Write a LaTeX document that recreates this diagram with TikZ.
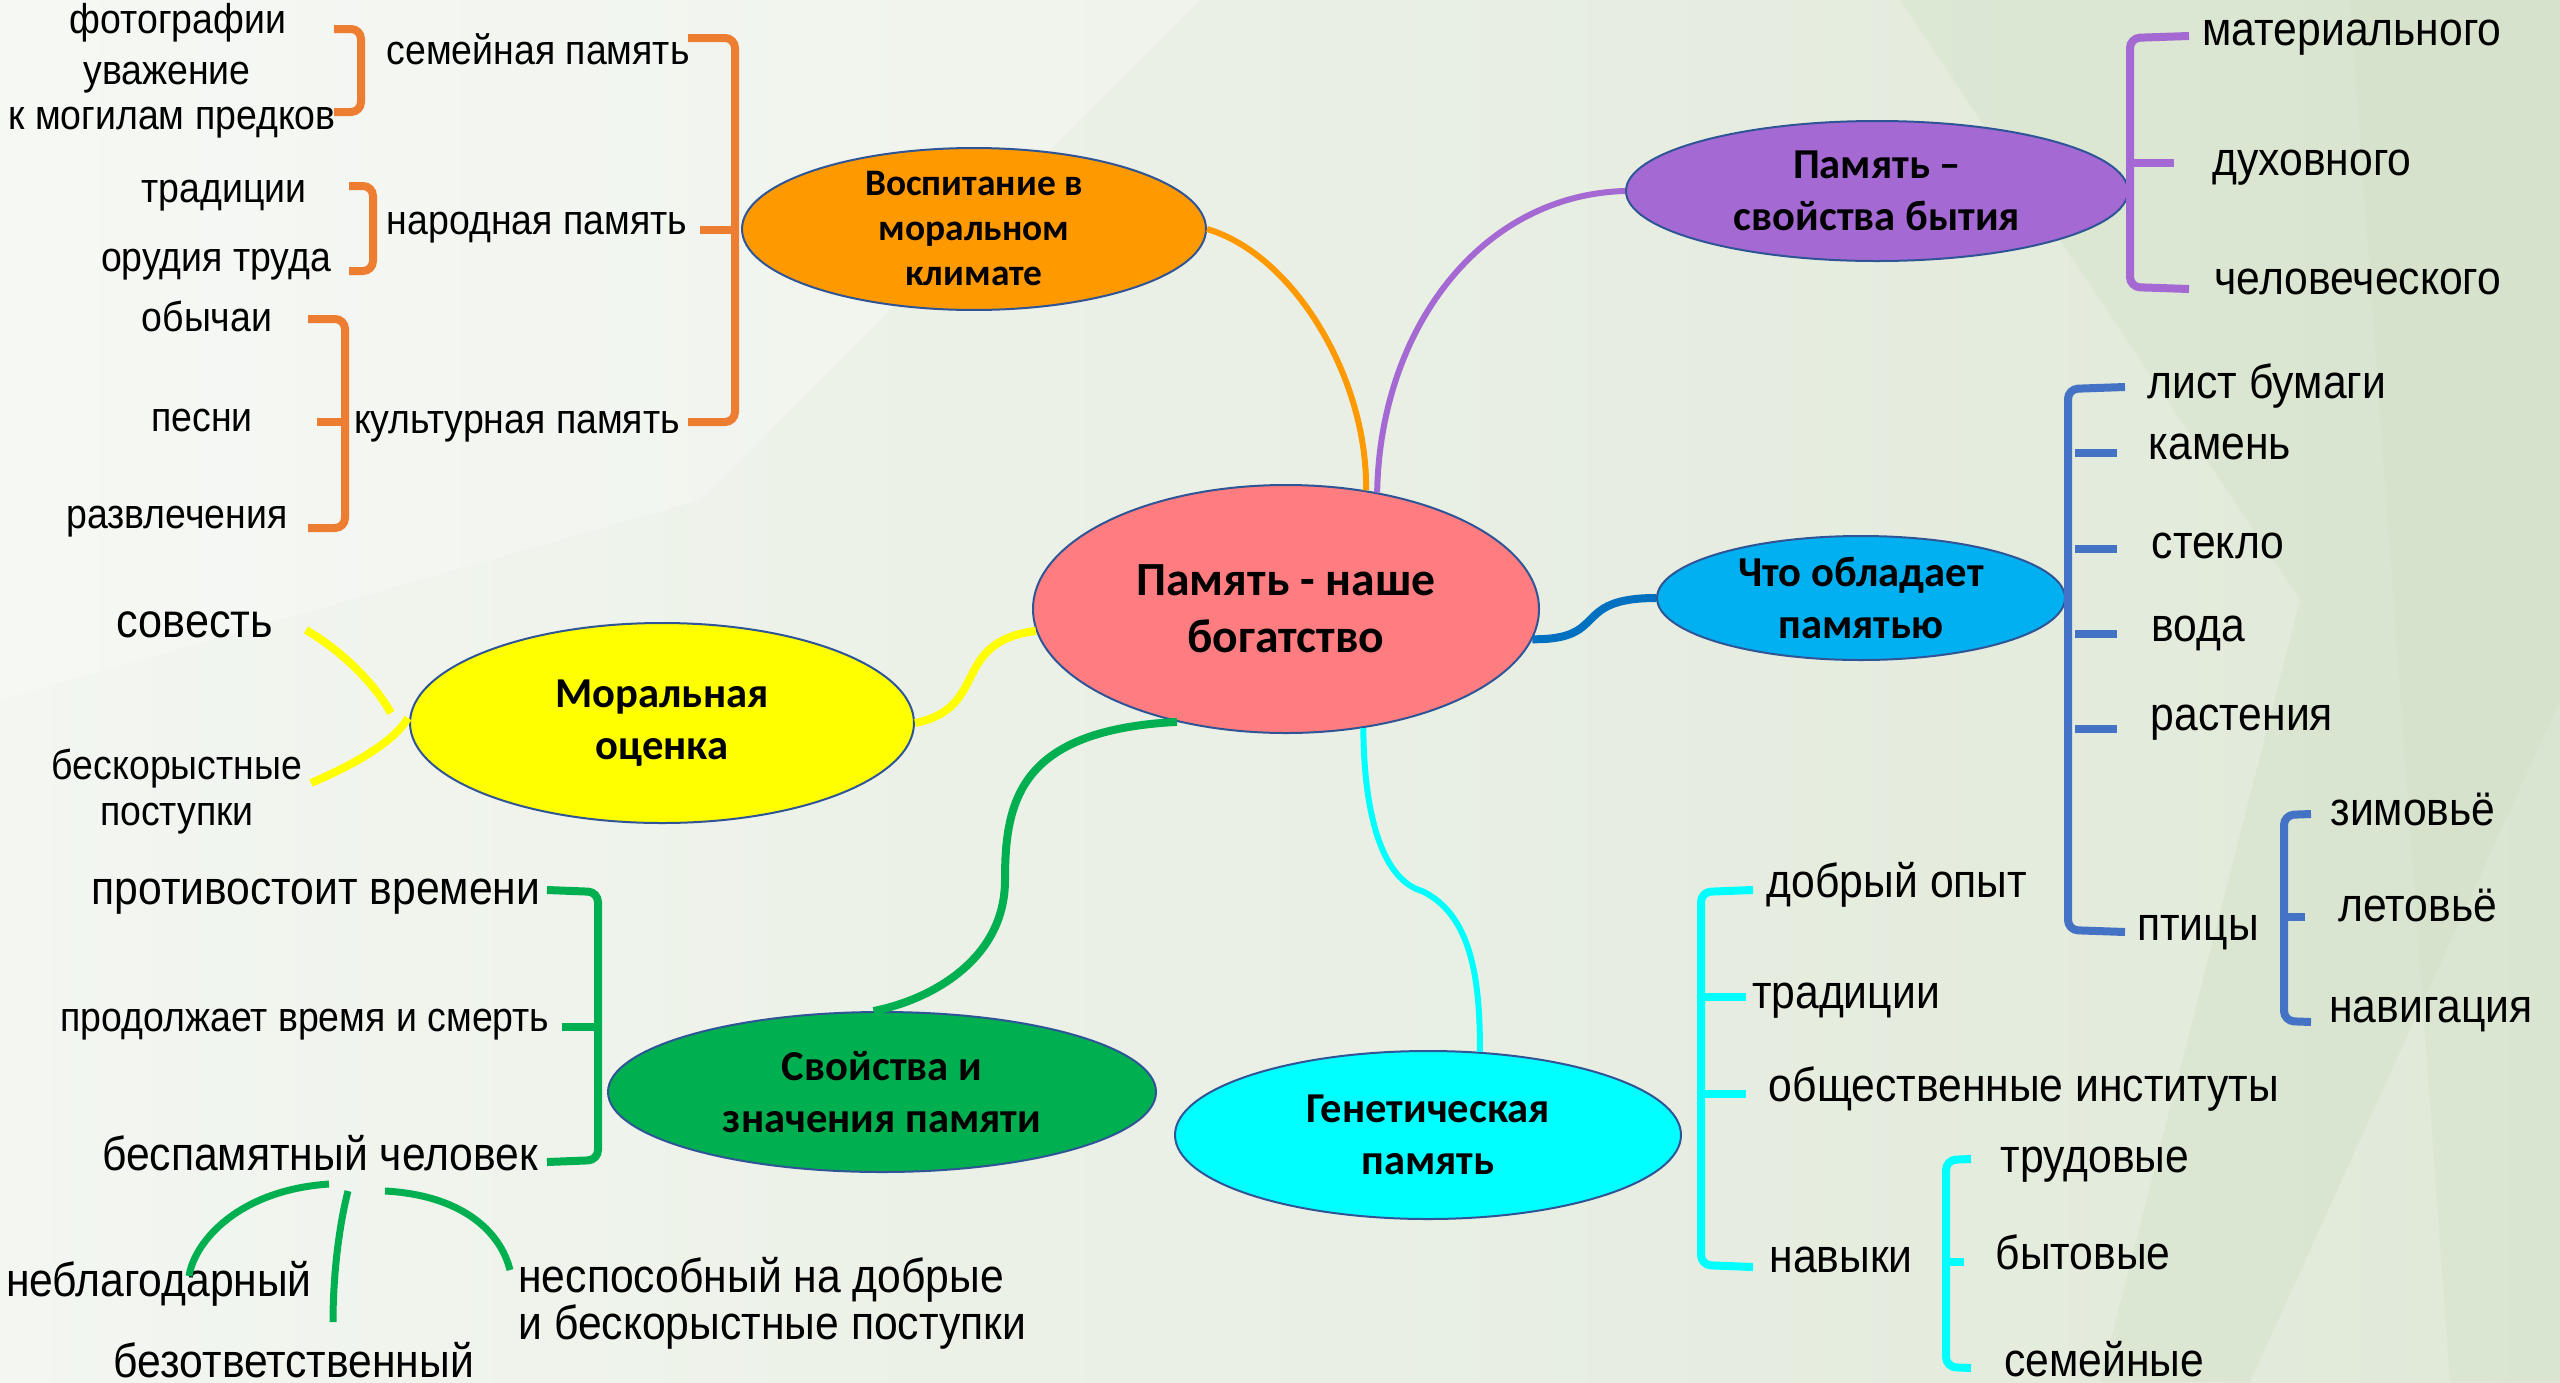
\documentclass[tikz,border=0pt]{standalone}
\usepackage{fontspec}
\setmainfont{Liberation Sans}
\newfontfamily\leaffont{Liberation Sans}[FakeStretch=0.9]
\newfontfamily\elfont{Carlito}
\usetikzlibrary{shapes.geometric}
\definecolor{bgL}{RGB}{243,246,241}
\definecolor{bgR}{RGB}{224,233,216}
\definecolor{poly}{RGB}{205,222,195}
\definecolor{cOrBr}{RGB}{237,125,49}
\definecolor{cOr}{RGB}{255,153,0}
\definecolor{cPu}{RGB}{164,105,210}
\definecolor{cBlF}{RGB}{0,176,240}
\definecolor{cBlC}{RGB}{0,112,192}
\definecolor{cBlBr}{RGB}{68,114,196}
\definecolor{cYe}{RGB}{255,255,0}
\definecolor{cGr}{RGB}{0,176,80}
\definecolor{cCy}{RGB}{0,255,255}
\definecolor{cMain}{RGB}{255,124,128}
\definecolor{cEdge}{RGB}{47,85,151}
\begin{document}
\begin{tikzpicture}[x=0.5pt,y=-0.5pt,
  bubble/.style={ellipse, draw=cEdge, line width=1pt, inner sep=0pt, align=center,
     font=\elfont\bfseries\fontsize{21.3}{26}\selectfont},
  leaf/.style={inner sep=0pt, anchor=base, font=\leaffont\fontsize{23.7}{28}\selectfont},
  leafS/.style={inner sep=0pt, anchor=base, font=\leaffont\fontsize{20.8}{25}\selectfont},
  brk/.style={line width=4pt, rounded corners=5pt},
  conn/.style={line width=3.5pt}
]
% background
\shade[left color=bgL, right color=bgR] (0,0) rectangle (2560,1382);
\fill[poly, opacity=0.35] (1900,0) -- (2560,0) -- (2560,700) -- (2250,1382) -- (2100,1382) -- (2300,600) -- cycle;
\fill[poly, opacity=0.3] (2350,0) -- (2560,0) -- (2560,1382) -- (2450,1382) -- cycle;
\fill[white, opacity=0.25] (0,0) -- (1200,0) -- (700,500) -- (0,700) -- cycle;
\useasboundingbox (0,0) rectangle (2560,1382);

% ellipses
\node[bubble, fill=cMain, minimum width=253pt, minimum height=124pt, font=\elfont\bfseries\fontsize{23.8}{28.5}\selectfont]
  (main) at (1286,609) {Память - наше\\богатство};
\node[bubble, fill=cOr, minimum width=232pt, minimum height=72pt, font=\elfont\bfseries\fontsize{18.7}{22.5}\selectfont]
  (vosp) at (974,229) {Воспитание в\\моральном\\климате};
\node[bubble, fill=cPu, minimum width=251pt, minimum height=70pt]
  (bytie) at (1877,191) {Память –\\свойства бытия};
\node[bubble, fill=cBlF, minimum width=204pt, minimum height=62pt]
  (obl) at (1861,598) {Что обладает\\памятью};
\node[bubble, fill=cYe, minimum width=252pt, minimum height=100pt]
  (moral) at (662,723) {Моральная\\оценка};
\node[bubble, fill=cGr, minimum width=274pt, minimum height=80pt]
  (svoj) at (882,1092) {Свойства и\\значения памяти};
\node[bubble, fill=cCy, minimum width=253pt, minimum height=84pt]
  (gen) at (1428,1135) {Генетическая\\память};

% main connectors
\draw[conn, cOr, line width=3pt] (vosp.east) .. controls (1295,255) and (1368,380) .. (main.56);
\draw[conn, cPu, line width=3pt] (bytie.west) .. controls (1480,195) and (1380,330) .. (main.52);
\draw[conn, cBlC, line width=4pt] (main.-7) .. controls (1610,640) and (1570,598) .. (obl.west);
\draw[conn, cYe, line width=4pt] (main.185) .. controls (950,642) and (990,708) .. (moral.east);
\draw[conn, cGr, line width=4pt] (main.226) .. controls (1020,730) and (1005,800) .. (1005,880)
   .. controls (1005,960) and (930,1000) .. (svoj.96);
\draw[conn, cCy, line width=3pt] (main.-57) .. controls (1364,820) and (1384,880) .. (1422,891)
   .. controls (1472,915) and (1480,980) .. (gen.58);

% orange leaves
\node[leafS] (fot) at (178,33) {фотографии};
\node[leafS] (uvazh) at (167,84) {уважение};
\node[leafS] (mogil) at (172,129) {к могилам предков};
\node[leafS] (sem) at (538,64) {семейная память};
\node[leafS] (trad1) at (224,202) {традиции};
\node[leafS] (orud) at (216,271) {орудия труда};
\node[leafS] (nar) at (537,234) {народная память};
\node[leafS] (obych) at (207,331) {обычаи};
\node[leafS] (pesni) at (202,431) {песни};
\node[leafS] (razv) at (177,528) {развлечения};
\node[leafS] (kult) at (517,433) {культурная память};
\begin{scope}[cOrBr]
\draw[brk] (688,38) -- (735,38) -- (735,422) -- (688,422);
\draw[brk] (700,230) -- (735,230);
\draw[brk] (334,29) -- (361,29) -- (361,112) -- (334,112);
\draw[brk] (349,186) -- (373,186) -- (373,271) -- (349,271);
\draw[brk] (308,319) -- (345,319) -- (345,528) -- (308,528);
\draw[brk] (317,422) -- (345,422);
\end{scope}

% purple leaves
\node[leaf] (mat) at (2352,45) {материального};
\node[leaf] (duh) at (2312,175) {духовного};
\node[leaf] (chel) at (2358,294) {человеческого};
\begin{scope}[cPu]
\draw[brk] (2189,36) -- (2130,38) -- (2130,287) -- (2189,289);
\draw[brk] (2130,163) -- (2174,163);
\end{scope}

% blue leaves
\node[leaf] (list) at (2267,398) {лист бумаги};
\node[leaf] (kam) at (2220,459) {камень};
\node[leaf] (stek) at (2218,558) {стекло};
\node[leaf] (voda) at (2198,641) {вода};
\node[leaf] (rast) at (2242,730) {растения};
\node[leaf] (ptic) at (2198,940) {птицы};
\node[leaf] (zim) at (2413,825) {зимовьё};
\node[leaf] (let) at (2418,921) {летовьё};
\node[leaf] (nav) at (2431,1022) {навигация};
\begin{scope}[cBlBr]
\draw[brk] (2125,387) -- (2068,389) -- (2068,930) -- (2125,932);
\foreach \yy in {453,549,634,729} \draw[brk] (2075,\yy) -- (2117,\yy);
\draw[brk] (2311,814) -- (2284,815) -- (2284,1021) -- (2311,1022);
\draw[brk] (2284,917) -- (2305,917);
\end{scope}

% cyan leaves
\node[leaf] (dobr) at (1897,897) {добрый опыт};
\node[leaf] (trad2) at (1846,1008) {традиции};
\node[leaf] (obsh) at (2024,1101) {общественные институты};
\node[leaf] (navyk) at (1841,1272) {навыки};
\node[leaf] (trud) at (2095,1172) {трудовые};
\node[leaf] (byt) at (2083,1269) {бытовые};
\node[leaf] (semn) at (2104,1376) {семейные};
\begin{scope}[cCy]
\draw[brk] (1753,890) -- (1701,892) -- (1701,1265) -- (1753,1267);
\draw[brk] (1705,997) -- (1746,997);
\draw[brk] (1705,1094) -- (1746,1094);
\draw[brk] (1971,1159) -- (1946,1160) -- (1946,1367) -- (1971,1368);
\draw[brk] (1946,1262) -- (1964,1262);
\end{scope}

% green leaves
\node[leaf] (prot) at (316,904) {противостоит времени};
\node[leafS] (prod) at (305,1031) {продолжает время и смерть};
\node[leaf] (besp) at (320,1170) {беспамятный человек};
\node[leaf] (nebl) at (159,1296) {неблагодарный};
\node[leaf] (bezo) at (294,1377) {безответственный};
\node[leaf, anchor=north west, align=left, font=\leaffont\fontsize{23.7}{23.5}\selectfont] (nesp) at (518,1257) {неспособный на добрые\\и бескорыстные поступки};
\begin{scope}[cGr]
\draw[brk] (547,890) -- (598,892) -- (598,1160) -- (547,1162);
\draw[brk] (562,1027) -- (598,1027);
\draw[conn] (329,1184) .. controls (240,1190) and (195,1240) .. (189,1276);
\draw[conn] (348,1191) .. controls (338,1230) and (333,1280) .. (333,1322);
\draw[conn] (385,1191) .. controls (460,1195) and (500,1230) .. (510,1270);
\end{scope}

% yellow leaves
\node[leaf, font=\leaffont\fontsize{24}{28}\selectfont] (sov) at (195,637) {совесть};
\node[leafS, anchor=center, align=center, font=\leaffont\fontsize{20.8}{23}\selectfont] (besk) at (177,792) {бескорыстные\\поступки};
\begin{scope}[cYe]
\draw[conn, line width=4pt] (306,630) .. controls (340,650) and (372,680) .. (391,713);
\draw[conn, line width=4pt] (311,783) .. controls (360,762) and (395,740) .. (408,718);
\end{scope}
\end{tikzpicture}
\end{document}
